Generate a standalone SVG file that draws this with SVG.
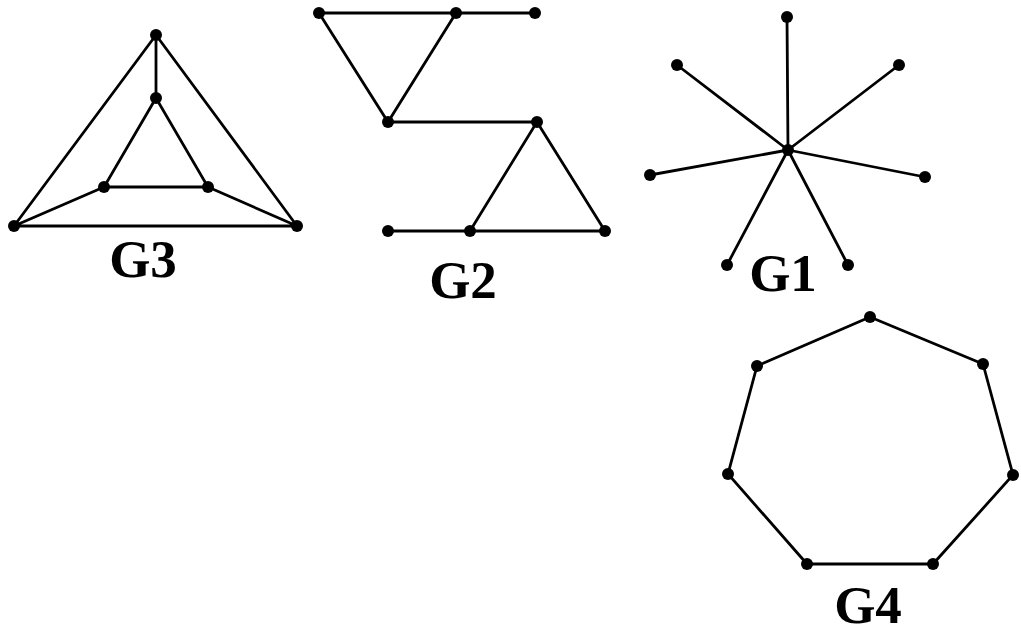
<svg xmlns="http://www.w3.org/2000/svg" width="1021" height="632" viewBox="0 0 1021 632">
<style>
.e{stroke:#000;stroke-width:2.8;fill:none;stroke-linecap:round}
.n{fill:#000}
.l{font-family:"Liberation Serif",serif;font-weight:bold;font-size:53px;text-anchor:middle;fill:#000}
</style>
<rect width="1021" height="632" fill="#fff"/>
<g id="connectors">
<!-- G3 -->
<path class="e" d="M156,35 L14,226 L297,226 Z M156,35 L156,98 M156,98 L104,187 L208,187 Z M14,226 L104,187 M297,226 L208,187"/>
<!-- G2 -->
<path class="e" d="M319,13 L535,13 M319,13 L388,122 L456,13 M388,122 L537,122 L470,231 M537,122 L605,231 M388,231 L605,231"/>
<!-- G1 -->
<path class="e" d="M788,150 L787,17 M788,150 L677,65 M788,150 L899,65 M788,150 L650,175 M788,150 L925,177 M788,150 L727,265 M788,150 L848,265"/>
<!-- G4 -->
<path class="e" d="M870,317 L983,364 L1013,475 L933,564 L807,564 L728,474 L757,366 Z"/>
</g>
<g id="G3">
<circle class="n" cx="156" cy="35" r="6"/>
<circle class="n" cx="156" cy="98" r="6"/>
<circle class="n" cx="104" cy="187" r="6"/>
<circle class="n" cx="208" cy="187" r="6"/>
<circle class="n" cx="14" cy="226" r="6"/>
<circle class="n" cx="297" cy="226" r="6"/>
<text class="l" x="143" y="277">G3</text>
</g>
<g id="G2">
<circle class="n" cx="319" cy="13" r="6"/>
<circle class="n" cx="456" cy="13" r="6"/>
<circle class="n" cx="535" cy="13" r="6"/>
<circle class="n" cx="388" cy="122" r="6"/>
<circle class="n" cx="537" cy="122" r="6"/>
<circle class="n" cx="388" cy="231" r="6"/>
<circle class="n" cx="470" cy="231" r="6"/>
<circle class="n" cx="605" cy="231" r="6"/>
<text class="l" x="463" y="298">G2</text>
</g>
<g id="G1">
<circle class="n" cx="788" cy="150" r="6"/>
<circle class="n" cx="787" cy="17" r="6"/>
<circle class="n" cx="677" cy="65" r="6"/>
<circle class="n" cx="899" cy="65" r="6"/>
<circle class="n" cx="650" cy="175" r="6"/>
<circle class="n" cx="925" cy="177" r="6"/>
<circle class="n" cx="727" cy="265" r="6"/>
<circle class="n" cx="848" cy="265" r="6"/>
<text class="l" x="783" y="291">G1</text>
</g>
<g id="G4">
<circle class="n" cx="870" cy="317" r="6"/>
<circle class="n" cx="983" cy="364" r="6"/>
<circle class="n" cx="1013" cy="475" r="6"/>
<circle class="n" cx="933" cy="564" r="6"/>
<circle class="n" cx="807" cy="564" r="6"/>
<circle class="n" cx="728" cy="474" r="6"/>
<circle class="n" cx="757" cy="366" r="6"/>
<text class="l" x="868" y="623">G4</text>
</g>
</svg>
